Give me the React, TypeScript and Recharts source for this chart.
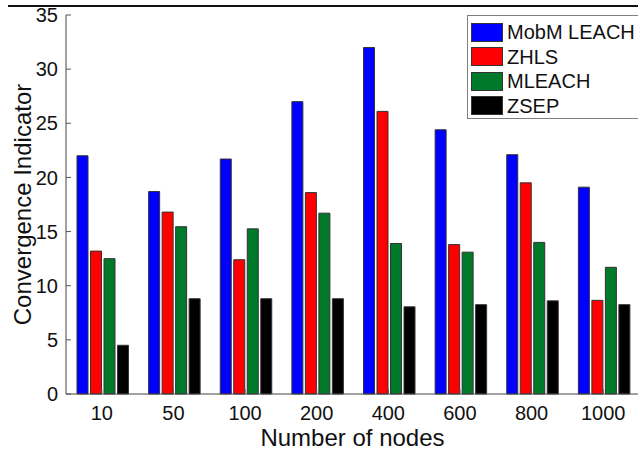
import React from 'react';
import { BarChart, Bar, XAxis, YAxis, Legend } from 'recharts';

const nodes = ['10', '50', '100', '200', '400', '600', '800', '1000'];
const mobmLeach = [22, 18.7, 21.7, 27, 32, 24.4, 22.1, 19.1];
const zhls = [13.2, 16.8, 12.4, 18.6, 26.1, 13.8, 19.5, 8.65];
const mleach = [12.5, 15.45, 15.25, 16.7, 13.9, 13.1, 14, 11.7];
const zsep = [4.5, 8.8, 8.8, 8.8, 8.05, 8.25, 8.6, 8.25];
const yTicks = [0, 5, 10, 15, 20, 25, 30, 35];

const seriesNames = ['MobM LEACH', 'ZHLS', 'MLEACH', 'ZSEP'];
const seriesColors = ['#0000FF', '#FF0000', '#007A2A', '#000000'];

const data = nodes.map((n, i) => ({
  n,
  a: mobmLeach[i],
  b: zhls[i],
  c: mleach[i],
  d: zsep[i],
}));

const FONT = '"Liberation Sans", Arial, sans-serif';

const LegendBox = (props: any) => {
  const payload = [...(props.payload || [])].sort(
    (p: any, q: any) => seriesNames.indexOf(p.value) - seriesNames.indexOf(q.value)
  );
  return (
    <div
      style={{
        border: '1px solid #7f7f7f',
        background: '#fff',
        boxSizing: 'border-box',
        width: 200,
        height: 104,
        paddingTop: 4,
        fontFamily: FONT,
      }}
    >
      {payload.map((p: any, i: number) => (
        <div key={i} style={{ display: 'flex', alignItems: 'center', height: 24.5 }}>
          <div
            style={{
              width: 32,
              height: 19,
              background: p.color,
              border: '1px solid #333',
              boxSizing: 'border-box',
              marginLeft: 3,
              marginRight: 4,
            }}
          />
          <span style={{ fontSize: 20, color: '#111', lineHeight: '20px', whiteSpace: 'nowrap' }}>{p.value}</span>
        </div>
      ))}
    </div>
  );
};

export default function App() {
  return (
    <div style={{ position: 'relative', width: 638, height: 451, overflow: 'hidden', background: '#fff' }}>
      <style>{`body{margin:0}`}</style>
      <div style={{ position: 'absolute', left: 8, top: 5, width: 630, height: 2, background: '#111' }} />
      <BarChart
        width={640}
        height={451}
        data={data}
        margin={{ top: 15, right: 1, left: 0, bottom: 0 }}
        barCategoryGap={11}
        barGap={2.5}
      >
        <XAxis
          dataKey="n"
          height={57}
          tickSize={-5}
          tickMargin={17}
          axisLine={{ stroke: '#444' }}
          tickLine={{ stroke: '#555' }}
          tick={{ fill: '#111', fontSize: 20, fontFamily: FONT }}
          label={{
            content: (lp: any) => {
              const vb = lp.viewBox || {};
              return (
                <text
                  x={vb.x + vb.width / 2}
                  y={446}
                  textAnchor="middle"
                  fontSize={24}
                  fontFamily={FONT}
                  fill="#111"
                >
                  Number of nodes
                </text>
              );
            },
          }}
        />
        <XAxis
          xAxisId="top"
          dataKey="n"
          orientation="top"
          height={0}
          mirror
          tick={false}
          tickSize={5}
          axisLine={{ stroke: '#333' }}
          tickLine={{ stroke: '#555' }}
        />
        <YAxis
          width={66}
          domain={[0, 35]}
          ticks={yTicks}
          interval={0}
          tickSize={-5}
          tickMargin={13}
          axisLine={{ stroke: '#444' }}
          tickLine={{ stroke: '#555' }}
          tick={{ fill: '#111', fontSize: 20, fontFamily: FONT }}
          label={{
            content: (lp: any) => {
              const vb = lp.viewBox || {};
              const cx = 22;
              const cy = vb.y + vb.height / 2;
              return (
                <text
                  x={cx}
                  y={cy}
                  textAnchor="middle"
                  dominantBaseline="central"
                  transform={`rotate(-90 ${cx} ${cy})`}
                  fontSize={24}
                  fontFamily={FONT}
                  fill="#111"
                >
                  Convergence Indicator
                </text>
              );
            },
          }}
        />
        <YAxis
          yAxisId="right"
          orientation="right"
          width={0}
          mirror
          domain={[0, 35]}
          ticks={yTicks}
          interval={0}
          tick={false}
          tickSize={5}
          axisLine={false}
          tickLine={{ stroke: '#555' }}
        />
        <Legend
          layout="vertical"
          align="center"
          verticalAlign="middle"
          wrapperStyle={{ position: 'absolute', left: 467, top: 15, width: 200, height: 104 }}
          content={<LegendBox />}
        />
        <Bar dataKey="a" name={seriesNames[0]} fill={seriesColors[0]} stroke="#333" strokeWidth={1} isAnimationActive={false} />
        <Bar dataKey="b" name={seriesNames[1]} fill={seriesColors[1]} stroke="#333" strokeWidth={1} isAnimationActive={false} />
        <Bar dataKey="c" name={seriesNames[2]} fill={seriesColors[2]} stroke="#333" strokeWidth={1} isAnimationActive={false} />
        <Bar dataKey="d" name={seriesNames[3]} fill={seriesColors[3]} stroke="#333" strokeWidth={1} isAnimationActive={false} />
      </BarChart>
    </div>
  );
}
